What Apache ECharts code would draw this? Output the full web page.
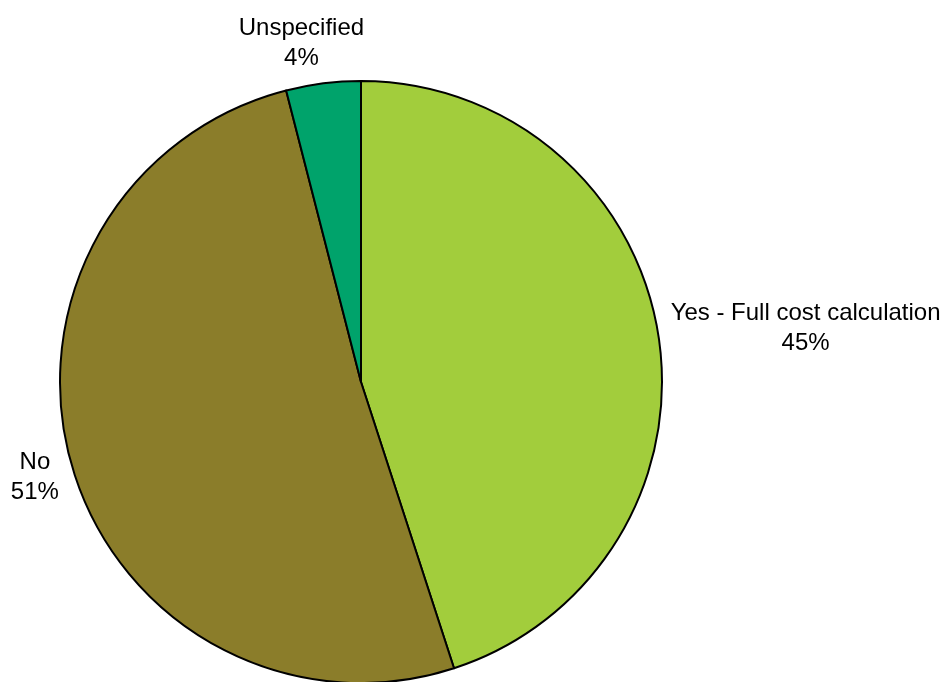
<!DOCTYPE html>
<html>
<head>
<meta charset="utf-8">
<script src="https://cdn.jsdelivr.net/npm/echarts@6/dist/echarts.min.js"></script>
<style>
html,body{margin:0;padding:0;background:#fff;}
#chart{width:947px;height:682px;}
</style>
</head>
<body>
<div id="chart"></div>
<script>
const categories = ['Yes - Full cost calculation', 'No', 'Unspecified'];
const values = [45, 51, 4];
const colors = ['#A2CD3C', '#8B7D2A', '#00A36B'];

const cx = 361, cy = 382, R = 301, startAngle = 90, gapX = 14, gapY = 13;
const total = values.reduce((a, b) => a + b, 0);
const cum = [];
values.reduce((acc, v, i) => { cum[i] = acc; return acc + v; }, 0);

const chart = echarts.init(document.getElementById('chart'), null, {renderer: 'canvas'});
chart.setOption({
  animation: false,
  backgroundColor: '#ffffff',
  series: [{
    type: 'pie',
    center: [cx, cy],
    radius: [0, R],
    startAngle: startAngle,
    clockwise: true,
    silent: true,
    avoidLabelOverlap: false,
    data: categories.map((c, i) => ({ name: c, value: values[i], itemStyle: { color: colors[i] } })),
    itemStyle: { borderColor: '#000000', borderWidth: 2 },
    label: {
      show: true,
      position: 'outside',
      overflow: 'none',
      formatter: function (p) { return '{t|' + p.name + '}\n{t|' + Math.round(p.percent) + '%}'; },
      rich: {
        t: { fontFamily: 'Liberation Sans, Arial, sans-serif', fontSize: 24, color: '#000000', align: 'center', lineHeight: 30 }
      },
      fontFamily: 'Liberation Sans, Arial, sans-serif',
      fontSize: 24,
      color: '#000000'
    },
    labelLine: { show: false, length: 0, length2: 0 },
    labelLayout: function (p) {
      const i = p.dataIndex;
      const mid = startAngle - 360 * (cum[i] + values[i] / 2) / total;
      const rad = mid * Math.PI / 180;
      const ux = Math.cos(rad), uy = -Math.sin(rad);
      const px = cx + R * ux, py = cy + R * uy;
      const w = p.labelRect.width, h = p.labelRect.height;
      return {
        x: px + ux * w / 2 + (ux < 0 ? -gapX : gapX),
        y: py + uy * (h / 2 + gapY),
        align: 'center',
        verticalAlign: 'middle'
      };
    }
  }]
});
</script>
</body>
</html>
